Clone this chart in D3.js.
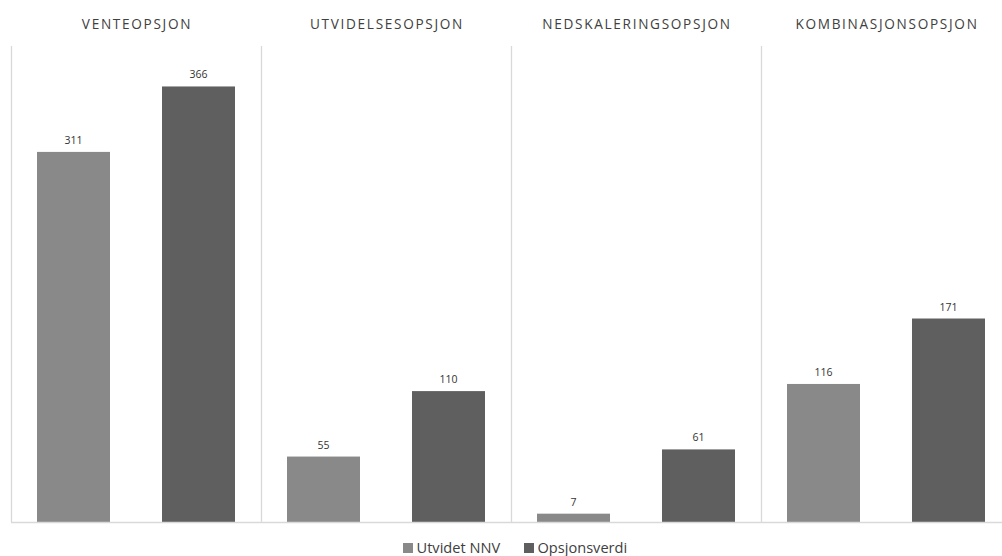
<!DOCTYPE html>
<html>
<head>
<meta charset="utf-8">
<script src="https://cdn.jsdelivr.net/npm/d3@7"></script>
<style>
  html, body { margin: 0; padding: 0; background: #fff; }
  svg { display: block; }
</style>
</head>
<body>
<svg id="chart" width="1002" height="556"></svg>
<script>
// Option types shown as side-by-side panels
const categories = ["VENTEOPSJON", "UTVIDELSESOPSJON", "NEDSKALERINGSOPSJON", "KOMBINASJONSOPSJON"];
const seriesNames = ["Utvidet NNV", "Opsjonsverdi"];
const utvidetNNV = [311, 55, 7, 116];
const opsjonsverdi = [366, 110, 61, 171];
const seriesColors = ["#898989", "#5f5f5f"];

const svg = d3.select("#chart");
const W = 1002, H = 556;
const font = "'Open Sans', 'Segoe UI', sans-serif";

const plotLeft = 11, panelW = 250, baseY = 522, topY = 46;

// Panel positions
const xPanel = d3.scaleBand().domain(categories)
  .range([plotLeft, plotLeft + panelW * categories.length]).padding(0);
// Bars within a panel
const xSeries = d3.scaleBand().domain(seriesNames)
  .range([0, panelW]).paddingInner(0.416).paddingOuter(0.208);
const y = d3.scaleLinear().domain([0, 400]).range([baseY, topY]);

// Panel separators
svg.append("g").selectAll("line").data(categories).join("line")
  .attr("x1", d => xPanel(d) + 0.5).attr("x2", d => xPanel(d) + 0.5)
  .attr("y1", topY).attr("y2", baseY)
  .attr("stroke", "#d9d9d9").attr("stroke-width", 1.3);

// Panel titles
svg.append("g").selectAll("text").data(categories).join("text")
  .attr("x", d => xPanel(d) + panelW / 2 + 1)
  .attr("y", 28.5)
  .attr("text-anchor", "middle")
  .attr("font-family", font)
  .attr("font-size", 13.6)
  .attr("letter-spacing", "1.7px")
  .attr("fill", "#404040")
  .text(d => d);

const rows = categories.map((c, i) => ({
  cat: c,
  values: [
    { name: seriesNames[0], v: utvidetNNV[i], color: seriesColors[0] },
    { name: seriesNames[1], v: opsjonsverdi[i], color: seriesColors[1] }
  ]
}));

const panels = svg.append("g").selectAll("g").data(rows).join("g")
  .attr("transform", d => `translate(${xPanel(d.cat)},0)`);

panels.selectAll("rect").data(d => d.values).join("rect")
  .attr("x", d => xSeries(d.name))
  .attr("y", d => y(d.v))
  .attr("width", xSeries.bandwidth())
  .attr("height", d => baseY - y(d.v))
  .attr("fill", d => d.color);

panels.selectAll("text.val").data(d => d.values).join("text")
  .attr("class", "val")
  .attr("x", d => xSeries(d.name) + xSeries.bandwidth() / 2)
  .attr("y", d => y(d.v) - 8)
  .attr("text-anchor", "middle")
  .attr("font-family", font)
  .attr("font-size", 10.5)
  .attr("fill", "#333333")
  .text(d => d.v);

// Baseline
svg.append("line")
  .attr("x1", plotLeft).attr("x2", W)
  .attr("y1", baseY + 0.5).attr("y2", baseY + 0.5)
  .attr("stroke", "#d9d9d9").attr("stroke-width", 1.3);

// Legend
const legend = svg.append("g").attr("transform", "translate(403,548)");
const items = [
  { name: seriesNames[0], color: seriesColors[0], x: 0 },
  { name: seriesNames[1], color: seriesColors[1], x: 121 }
];
const li = legend.selectAll("g").data(items).join("g")
  .attr("transform", d => `translate(${d.x},0)`);
li.append("rect").attr("x", 0).attr("y", -5).attr("width", 10).attr("height", 10)
  .attr("fill", d => d.color);
li.append("text").attr("x", 13.5).attr("y", 5)
  .attr("font-family", font).attr("font-size", 14.6).attr("fill", "#404040")
  .text(d => d.name);
</script>
</body>
</html>
